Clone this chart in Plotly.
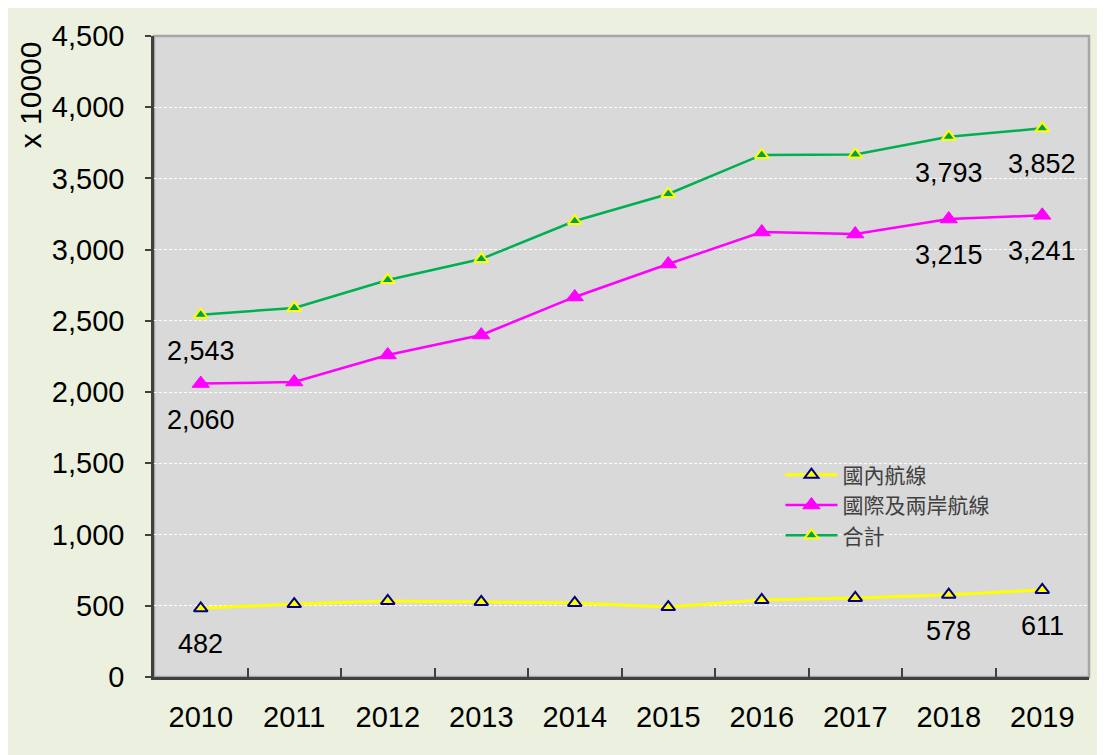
import plotly.graph_objects as go

years = ["2010", "2011", "2012", "2013", "2014", "2015", "2016", "2017", "2018", "2019"]
domestic = [482, 512, 534, 527, 520, 491, 541, 555, 578, 611]
international = [2060, 2071, 2261, 2401, 2668, 2899, 3124, 3110, 3215, 3241]
total = [2543, 2591, 2787, 2935, 3201, 3391, 3665, 3668, 3793, 3852]
names = ["國內航線", "國際及兩岸航線", "合計"]
label_idx = [0, 8, 9]
y_ticks = list(range(0, 4501, 500))

fig = go.Figure()
fig.add_trace(go.Scatter(
    x=years, y=domestic, name=names[0], mode="lines+markers",
    line=dict(color="#FFFF00", width=3),
    marker=dict(symbol="triangle-up", size=12, color="#FFFF00",
                line=dict(color="#000080", width=2)),
))
fig.add_trace(go.Scatter(
    x=years, y=international, name=names[1], mode="lines+markers",
    line=dict(color="#FF00FF", width=2.5),
    marker=dict(symbol="triangle-up", size=15, color="#FF00FF",
                line=dict(color="#FF00FF", width=1)),
))
fig.add_trace(go.Scatter(
    x=years, y=total, name=names[2], mode="lines+markers",
    line=dict(color="#00B050", width=2.5),
    marker=dict(symbol="triangle-up", size=12, color="#00A050",
                line=dict(color="#FFFF00", width=2)),
))

annotations = []
for series in (domestic, international, total):
    for i in label_idx:
        annotations.append(dict(
            x=i, y=series[i], xref="x", yref="y",
            text=f"{series[i]:,}", showarrow=False, yshift=-36,
            font=dict(family="Liberation Sans, Arial", size=27, color="#000000"),
        ))
annotations.append(dict(
    xref="paper", yref="paper", x=-0.132, y=0.995,
    text="x 10000", textangle=-90, showarrow=False,
    xanchor="center", yanchor="top",
    font=dict(family="Liberation Sans, Arial", size=30, color="#000000"),
))

shapes = [
    dict(type="rect", xref="paper", yref="paper", x0=0, x1=1, y0=0, y1=1,
         fillcolor="#D9D9D9", line=dict(color="#A6A6A6", width=2.5), layer="below"),
]

fig.update_layout(
    width=1105, height=755,
    margin=dict(l=146, r=24, t=28, b=86),
    paper_bgcolor="#EBF1DE",
    plot_bgcolor="rgba(0,0,0,0)",
    font=dict(family="Liberation Sans, Arial", color="#000000"),
    shapes=shapes,
    annotations=annotations,
    showlegend=True,
    legend=dict(
        x=0.67, y=0.347, xanchor="left", yanchor="top",
        bgcolor="rgba(0,0,0,0)", itemwidth=52,
        font=dict(family="Noto Sans CJK TC", size=21, color="#404040"),
        tracegroupgap=0,
    ),
    xaxis=dict(
        type="category", range=[-0.5, 9.5], tickson="boundaries",
        ticks="inside", ticklen=9, tickwidth=1.5, tickcolor="#404040",
        showline=True, linecolor="#404040", linewidth=2.5,
        showgrid=False, ticklabelstandoff=12,
        tickfont=dict(size=29, color="#000000"),
    ),
    yaxis=dict(
        range=[0, 4500], tickvals=y_ticks, tickformat=",",
        ticks="outside", ticklen=6, tickwidth=1.5, tickcolor="#404040",
        showline=True, linecolor="#404040", linewidth=2.5,
        showgrid=True, gridcolor="#FFFFFF", gridwidth=1, griddash="3px,2px",
        zeroline=False, ticklabelstandoff=15,
        tickfont=dict(size=29, color="#000000"),
    ),
)

fig.write_html("out.html")
